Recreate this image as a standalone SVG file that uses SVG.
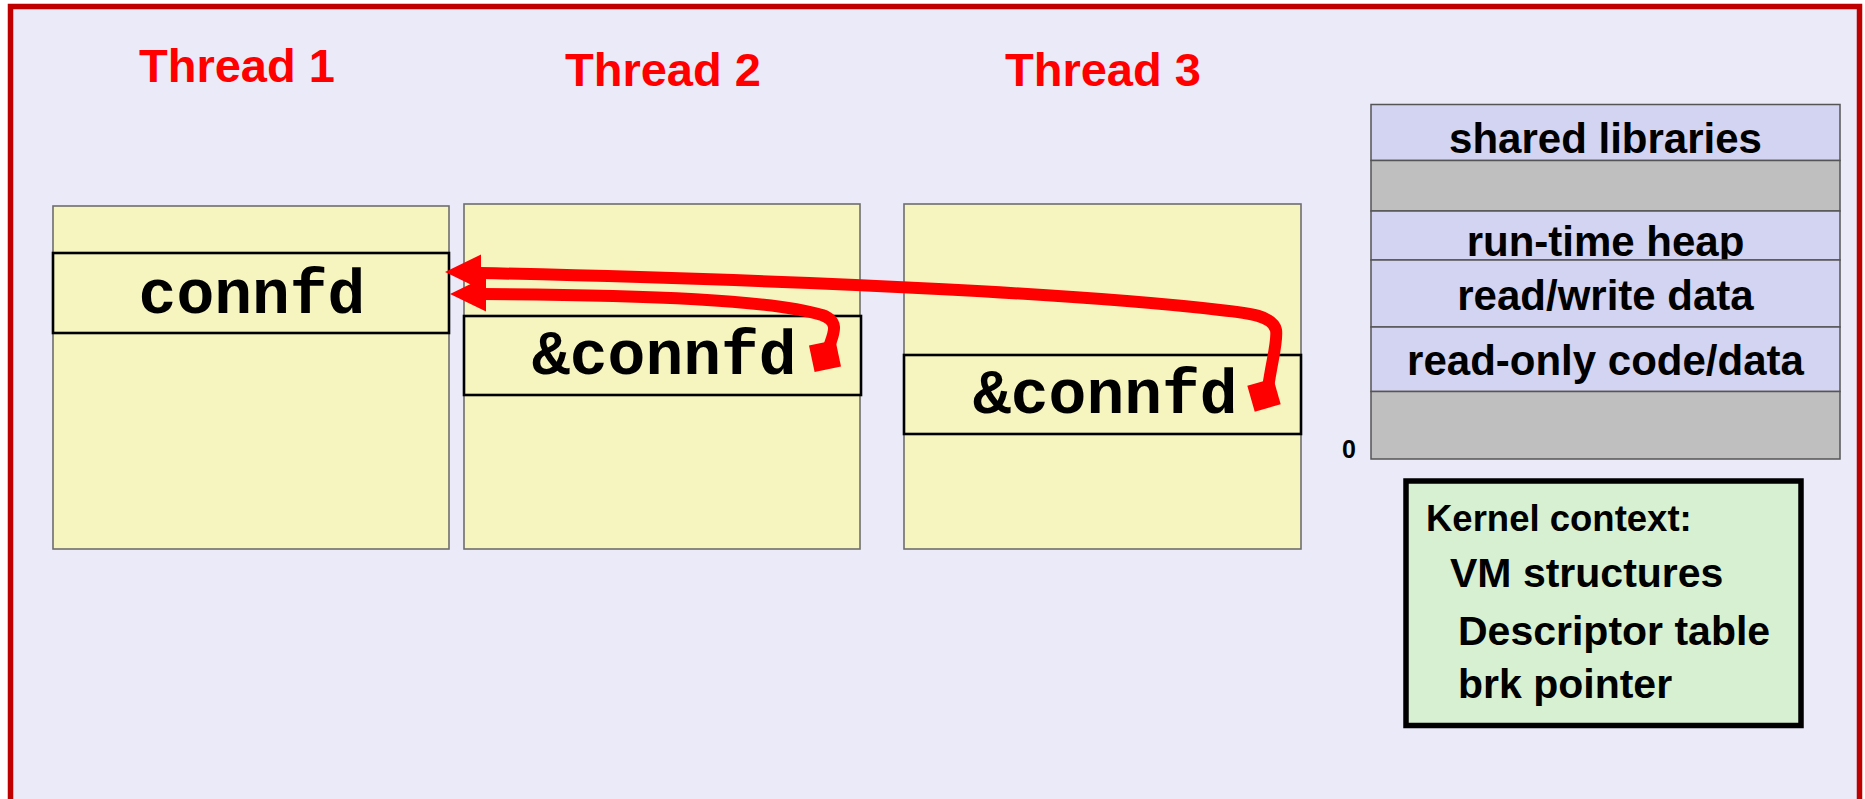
<svg xmlns="http://www.w3.org/2000/svg" width="1865" height="799" viewBox="0 0 1865 799">
<style>
.frame{fill:#EAEAF8;stroke:#C00000;stroke-width:5.5}
.thread{fill:#F6F5BF;stroke:#6E6E6E;stroke-width:1.6}
.row{fill:#F6F5BF;stroke:#000;stroke-width:2.6}
.code{font-family:"Liberation Mono","Courier New",monospace;font-weight:bold;font-size:63px;fill:#000}
.title{font-family:"Liberation Sans",Arial,sans-serif;font-weight:bold;font-size:47px;fill:#FF0000}
.seg{fill:#D3D3F2;stroke:#555;stroke-width:1.5}
.gap{fill:#BFBFBF;stroke:#555;stroke-width:1.5}
.mem{font-family:"Liberation Sans",Arial,sans-serif;font-weight:bold;font-size:42px;fill:#000;text-anchor:middle}
.kbox{fill:#D7F0D2;stroke:#000;stroke-width:5.5}
.ktxt{font-family:"Liberation Sans",Arial,sans-serif;font-weight:bold;font-size:41px;fill:#000}
.khead{font-size:36.5px}
.wire{fill:none;stroke:#FF0000;stroke-width:12}
.red{fill:#FF0000}
</style>
<defs>
<path id="head" d="M0,0 L36,-17.5 L36,17.5 Z"/>
<rect id="tail" x="-13.5" y="-13.5" width="27" height="27"/>
</defs>
<rect x="0" y="0" width="1865" height="799" fill="#FFFFFF"/>
<rect class="frame" x="10.5" y="6.5" width="1849" height="820"/>

<g id="thread1">
<text class="title" x="139" y="82">Thread 1</text>
<rect class="thread" x="53" y="206" width="396" height="343"/>
<rect class="row" x="53" y="253" width="396" height="80"/>
<text class="code" x="252" y="313" text-anchor="middle">connfd</text>
</g>

<g id="thread2">
<text class="title" x="565" y="86">Thread 2</text>
<rect class="thread" x="464" y="204" width="396" height="345"/>
<rect class="row" x="464" y="316" width="397" height="79"/>
<text class="code" x="532" y="374">&amp;connfd</text>
</g>

<g id="thread3">
<text class="title" x="1005" y="86">Thread 3</text>
<rect class="thread" x="904" y="204" width="397" height="345"/>
<rect class="row" x="904" y="355" width="397" height="79"/>
<text class="code" x="973" y="413">&amp;connfd</text>
</g>

<g id="memory">
<rect class="seg" x="1371" y="104.5" width="469" height="56"/>
<text class="mem" x="1605.5" y="153">shared libraries</text>
<rect class="gap" x="1371" y="160.5" width="469" height="50.5"/>
<rect class="seg" x="1371" y="211" width="469" height="49"/>
<text class="mem" x="1605.5" y="256">run-time heap</text>
<rect class="seg" x="1371" y="260" width="469" height="67"/>
<text class="mem" x="1605.5" y="310">read/write data</text>
<rect class="seg" x="1371" y="327" width="469" height="64.5"/>
<text class="mem" x="1605.5" y="375">read-only code/data</text>
<rect class="gap" x="1371" y="391.5" width="469" height="67.5"/>
<text x="1342" y="458" font-family="Liberation Sans, Arial, sans-serif" font-weight="bold" font-size="25">0</text>
</g>

<g id="kernel">
<rect class="kbox" x="1406" y="481" width="395" height="244.5"/>
<text class="ktxt khead" x="1426" y="530.5">Kernel context:</text>
<text class="ktxt" x="1450" y="586.5">VM structures</text>
<text class="ktxt" x="1458" y="645">Descriptor table</text>
<text class="ktxt" x="1458" y="698">brk pointer</text>
</g>

<g id="connectors">
<path class="wire" d="M1268,388 C1272,360 1278,340 1276,330 C1273,316 1250,313 1220,310 C1100,296 850,281 480,273"/>
<use href="#head" class="red" transform="translate(445,272)"/>
<use href="#tail" class="red" transform="translate(1264,395) rotate(-16)"/>
<path class="wire" d="M828,350 C832,336 842,322 822,315 C770,300 650,295 482,294"/>
<use href="#head" class="red" transform="translate(450,294)"/>
<use href="#tail" class="red" transform="translate(825,356) rotate(-12)"/>
</g>
</svg>
